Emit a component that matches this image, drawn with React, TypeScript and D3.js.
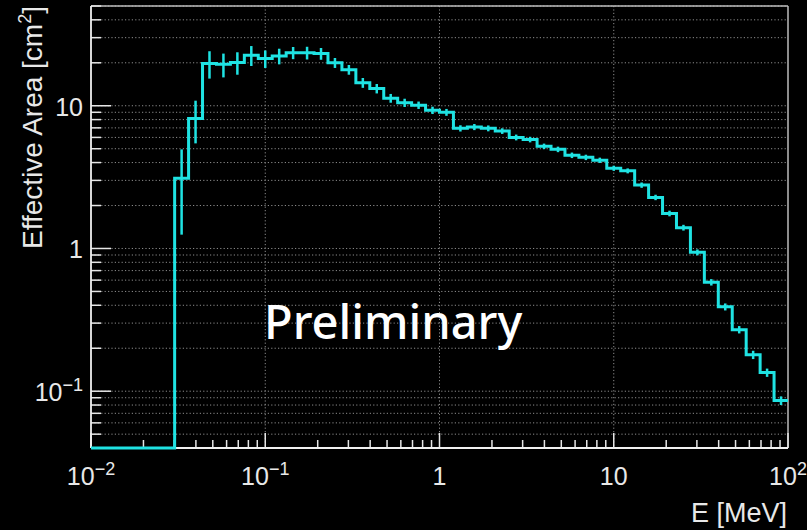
import React from "react";
import * as d3 from "d3";

// Histogram binning: 50 log-uniform bins from 10^-2 to 10^2 MeV
const LOG_E_MIN = -2;
const LOG_E_MAX = 2;
const N_BINS = 50;

// Effective area per bin [cm^2] (0 = empty bin)
const effArea = [
  0, 0, 0, 0, 0, 0,
  3.1, 8.15, 19.8, 19.5, 20.1, 22.6, 21.4, 22.3, 23.5, 23.5,
  23.2, 20.0, 17.9, 14.5, 13.2, 11.3, 10.5, 10.1, 9.3, 9.0,
  6.95, 7.1, 6.95, 6.65, 6.0, 5.8, 5.2, 4.95, 4.5, 4.35,
  4.15, 3.65, 3.5, 2.78, 2.28, 1.76, 1.4, 0.94, 0.58, 0.39,
  0.27, 0.18, 0.135, 0.086,
];

// Statistical error per bin [cm^2]
const effAreaErr = [
  0, 0, 0, 0, 0, 0,
  1.85, 2.7, 4.3, 3.7, 3.6, 3.6, 3.0, 2.8, 2.3, 2.4,
  2.2, 1.6, 1.4, 1.15, 1.0, 0.8, 0.7, 0.6, 0.55, 0.5,
  0.35, 0.35, 0.33, 0.3, 0.28, 0.26, 0.23, 0.22, 0.2, 0.19,
  0.18, 0.15, 0.14, 0.12, 0.1, 0.08, 0.065, 0.045, 0.03, 0.022,
  0.016, 0.012, 0.009, 0.006,
];

const xDomain = [0.01, 100];
const yDomain = [0.04, 50];

const xMajorTicks = [0.01, 0.1, 1, 10, 100];
const xMajorLabels = [
  { base: "10", exp: "−2" },
  { base: "10", exp: "−1" },
  { base: "1", exp: "" },
  { base: "10", exp: "" },
  { base: "10", exp: "2" },
];
const xMinorTicks = [
  0.02, 0.03, 0.04, 0.05, 0.06, 0.07, 0.08, 0.09,
  0.2, 0.3, 0.4, 0.5, 0.6, 0.7, 0.8, 0.9,
  2, 3, 4, 5, 6, 7, 8, 9,
  20, 30, 40, 50, 60, 70, 80, 90,
];
const yMajorTicks = [0.1, 1, 10];
const yMajorLabels = [
  { base: "10", exp: "−1" },
  { base: "1", exp: "" },
  { base: "10", exp: "" },
];
const yMinorTicks = [
  0.04, 0.05, 0.06, 0.07, 0.08, 0.09,
  0.2, 0.3, 0.4, 0.5, 0.6, 0.7, 0.8, 0.9,
  2, 3, 4, 5, 6, 7, 8, 9,
  20, 30, 40, 50,
];

const W = 807;
const H = 530;
const L = 91;
const R = 788;
const T = 6;
const B = 448;

const CYAN = "#1fe3e3";
const FONT = "'Liberation Sans', Arial, Helvetica, sans-serif";

export default function App() {
  const x = d3.scaleLog().domain(xDomain).range([L, R]);
  const y = d3.scaleLog().domain(yDomain).range([B, T]);

  const edges = d3.range(N_BINS + 1).map(
    (i) => Math.pow(10, LOG_E_MIN + ((LOG_E_MAX - LOG_E_MIN) * i) / N_BINS)
  );
  const yOf = (v: number) => (v > 0 ? y(v) : B);

  const pts: [number, number][] = effArea.map((v, i) => [x(edges[i]), yOf(v)]);
  pts.push([x(edges[N_BINS]), yOf(effArea[N_BINS - 1])]);
  const stepPath = d3
    .line<[number, number]>()
    .x((d) => d[0])
    .y((d) => d[1])
    .curve(d3.curveStepAfter)(pts) as string;

  const grid = "#8c8c8c";
  const dash = "1.2,2.2";

  return (
    <svg
      width={W}
      height={H}
      style={{ position: "absolute", left: 0, top: 0, display: "block", background: "#000" }}
    >
      <rect x={0} y={0} width={W} height={H} fill="#000" />

      {/* horizontal grid */}
      {[...yMajorTicks, ...yMinorTicks].map((t, i) => (
        <line key={"gy" + i} x1={L} x2={R} y1={y(t)} y2={y(t)} stroke={grid} strokeWidth={1} strokeDasharray={dash} />
      ))}
      {/* vertical grid at decades */}
      {xMajorTicks.slice(1, -1).map((t, i) => (
        <line key={"gx" + i} x1={x(t)} x2={x(t)} y1={T} y2={B} stroke={grid} strokeWidth={1} strokeDasharray={dash} />
      ))}

      {/* frame */}
      <line x1={L} x2={R} y1={T} y2={T} stroke="#bdbdbd" strokeWidth={1.5} />
      <line x1={R} x2={R} y1={T} y2={B} stroke="#bdbdbd" strokeWidth={1.5} />

      {/* y ticks */}
      {yMajorTicks.map((t, i) => (
        <line key={"yM" + i} x1={L} x2={L + 20} y1={y(t)} y2={y(t)} stroke="#e6e6e6" strokeWidth={1.5} />
      ))}
      {yMinorTicks.map((t, i) => (
        <line key={"ym" + i} x1={L} x2={L + 10} y1={y(t)} y2={y(t)} stroke="#e6e6e6" strokeWidth={1.5} />
      ))}
      {/* x ticks */}
      {xMajorTicks.map((t, i) => (
        <line key={"xM" + i} x1={x(t)} x2={x(t)} y1={B} y2={B - 15} stroke="#e6e6e6" strokeWidth={1.5} />
      ))}
      {xMinorTicks.map((t, i) => (
        <line key={"xm" + i} x1={x(t)} x2={x(t)} y1={B} y2={B - 8} stroke="#e6e6e6" strokeWidth={1.5} />
      ))}

      {/* axes */}
      <line x1={L} x2={L} y1={T} y2={B} stroke="#f0f0f0" strokeWidth={1.8} />
      <line x1={L} x2={R} y1={B} y2={B} stroke="#f0f0f0" strokeWidth={1.8} />

      {/* histogram */}
      <path d={stepPath} fill="none" stroke={CYAN} strokeWidth={3} strokeLinejoin="miter" />
      {effArea.map((v, i) =>
        v > 0 && effAreaErr[i] > 0 ? (
          <line
            key={"e" + i}
            x1={(x(edges[i]) + x(edges[i + 1])) / 2}
            x2={(x(edges[i]) + x(edges[i + 1])) / 2}
            y1={y(v + effAreaErr[i])}
            y2={y(Math.max(v - effAreaErr[i], yDomain[0]))}
            stroke={CYAN}
            strokeWidth={2.5}
          />
        ) : null
      )}

      {/* x tick labels */}
      {xMajorTicks.map((t, i) => (
        <text key={"xl" + i} x={x(t)} y={485} fill="#e8e8e8" fontFamily={FONT} fontSize={25} textAnchor="middle">
          {xMajorLabels[i].base}
          {xMajorLabels[i].exp ? (
            <tspan dy={-10} fontSize={18}>
              {xMajorLabels[i].exp}
            </tspan>
          ) : null}
        </text>
      ))}
      {/* y tick labels */}
      {yMajorTicks.map((t, i) => (
        <text key={"yl" + i} x={83} y={y(t) + 10} fill="#e8e8e8" fontFamily={FONT} fontSize={25} textAnchor="end">
          {yMajorLabels[i].base}
          {yMajorLabels[i].exp ? (
            <tspan dy={-10} fontSize={18}>
              {yMajorLabels[i].exp}
            </tspan>
          ) : null}
        </text>
      ))}

      {/* axis titles */}
      <text x={787} y={522} fill="#e8e8e8" fontFamily={FONT} fontSize={27} textAnchor="end">
        E [MeV]
      </text>
      <text
        transform="translate(42,6) rotate(-90)"
        fill="#e8e8e8"
        fontFamily={FONT}
        fontSize={28}
        textAnchor="end"
      >
        Effective Area [cm
        <tspan dy={-11} fontSize={18}>2</tspan>
        <tspan dy={11}>]</tspan>
      </text>

      {/* watermark */}
      <text x={264} y={339} fill="#ffffff" fontFamily="'Noto Sans', Lato, sans-serif" fontSize={47} fontWeight={500}>
        Preliminary
      </text>
    </svg>
  );
}
